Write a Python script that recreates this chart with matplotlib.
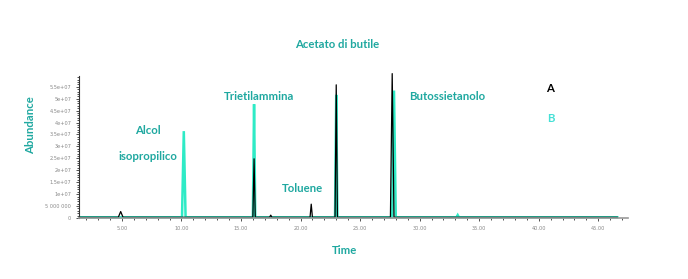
import matplotlib
matplotlib.use("Agg")
import matplotlib.pyplot as plt
from matplotlib.ticker import MultipleLocator, FuncFormatter

# Chromatogram traces (time in min, abundance)
time_a = [1.5, 4.7, 4.9, 5.1, 16.0, 16.1, 16.2, 17.4, 17.5, 17.6, 20.8, 20.9, 21.0,
          22.9, 23.0, 23.1, 27.55, 27.7, 27.85, 46.6]
abund_a = [3e5, 3e5, 2.7e6, 3e5, 3e5, 2.48e7, 3e5, 3e5, 1.2e6, 3e5, 3e5, 5.8e6, 3e5,
           3e5, 5.58e7, 3e5, 3e5, 6.05e7, 3e5, 3e5]

time_b = [1.5, 10.05, 10.2, 10.35, 16.0, 16.1, 16.2, 22.9, 23.0, 23.1,
          27.7, 27.85, 28.0, 33.1, 33.2, 33.3, 46.6]
abund_b = [3e5, 3e5, 3.64e7, 3e5, 3e5, 4.77e7, 3e5, 3e5, 5.16e7, 3e5,
           3e5, 5.34e7, 3e5, 3e5, 1.2e6, 3e5, 3e5]

peak_labels = ["Alcol", "isopropilico", "Trietilammina", "Toluene", "Butossietanolo"]

W, H = 688, 279
fig = plt.figure(figsize=(W / 100, H / 100), dpi=100)
ax = fig.add_axes([79 / W, 1 - 218 / H, (628 - 79) / W, (218 - 76) / H])

teal = "#1FA8A0"
cyan = "#2EEBC6"

ax.plot(time_b, abund_b, color=cyan, lw=1.8, solid_joinstyle="miter", clip_on=False)
ax.plot(time_a, abund_a, color="black", lw=0.9, clip_on=False)

ax.set_xlim(1.4, 47.5)
ax.set_ylim(0, 5.95e7)
for s in ["top", "right"]:
    ax.spines[s].set_visible(False)
ax.spines["left"].set_color("#333333")
ax.spines["left"].set_linewidth(0.8)
ax.spines["bottom"].set_color("#999999")
ax.spines["bottom"].set_linewidth(1.2)

ax.xaxis.set_major_locator(MultipleLocator(5))
ax.xaxis.set_minor_locator(MultipleLocator(1))
ax.yaxis.set_major_locator(MultipleLocator(5e6))
ax.yaxis.set_minor_locator(MultipleLocator(1e6))

def yfmt(v, pos):
    if v == 0:
        return "0"
    if v == 5e6:
        return "5 000 000"
    s = "%.1e" % v
    m, e = s.split("e")
    m = m.rstrip("0").rstrip(".")
    return "%se+%02d" % (m, int(e))

ax.yaxis.set_major_formatter(FuncFormatter(yfmt))
ax.xaxis.set_major_formatter(FuncFormatter(lambda v, p: "%.2f" % v))
ax.tick_params(axis="both", which="both", labelsize=3.6, labelcolor="#888888",
               color="#333333", width=0.6)
ax.tick_params(axis="both", which="major", length=2.5, pad=3)
ax.tick_params(axis="both", which="minor", length=1.5)

fam = ["Lato", "DejaVu Sans"]
def ftext(x, y, s, color=teal, size=8.2, **kw):
    fig.text(x / W, 1 - y / H, s, color=color, fontsize=size, fontweight="bold",
             ha="center", va="center", family=fam, **kw)

ftext(337, 45, "Acetato di butile")
ftext(148, 130, peak_labels[0])
ftext(148, 156, peak_labels[1])
ftext(259, 96, peak_labels[2])
ftext(302, 188, peak_labels[3])
ftext(447, 96, peak_labels[4])
ftext(550, 88, "A", color="black")
ftext(551, 119, "B", color="#45E0D6")
ftext(31, 125, "Abundance", rotation=90)
ftext(345, 250, "Time")

fig.savefig("out.png", dpi=100)
